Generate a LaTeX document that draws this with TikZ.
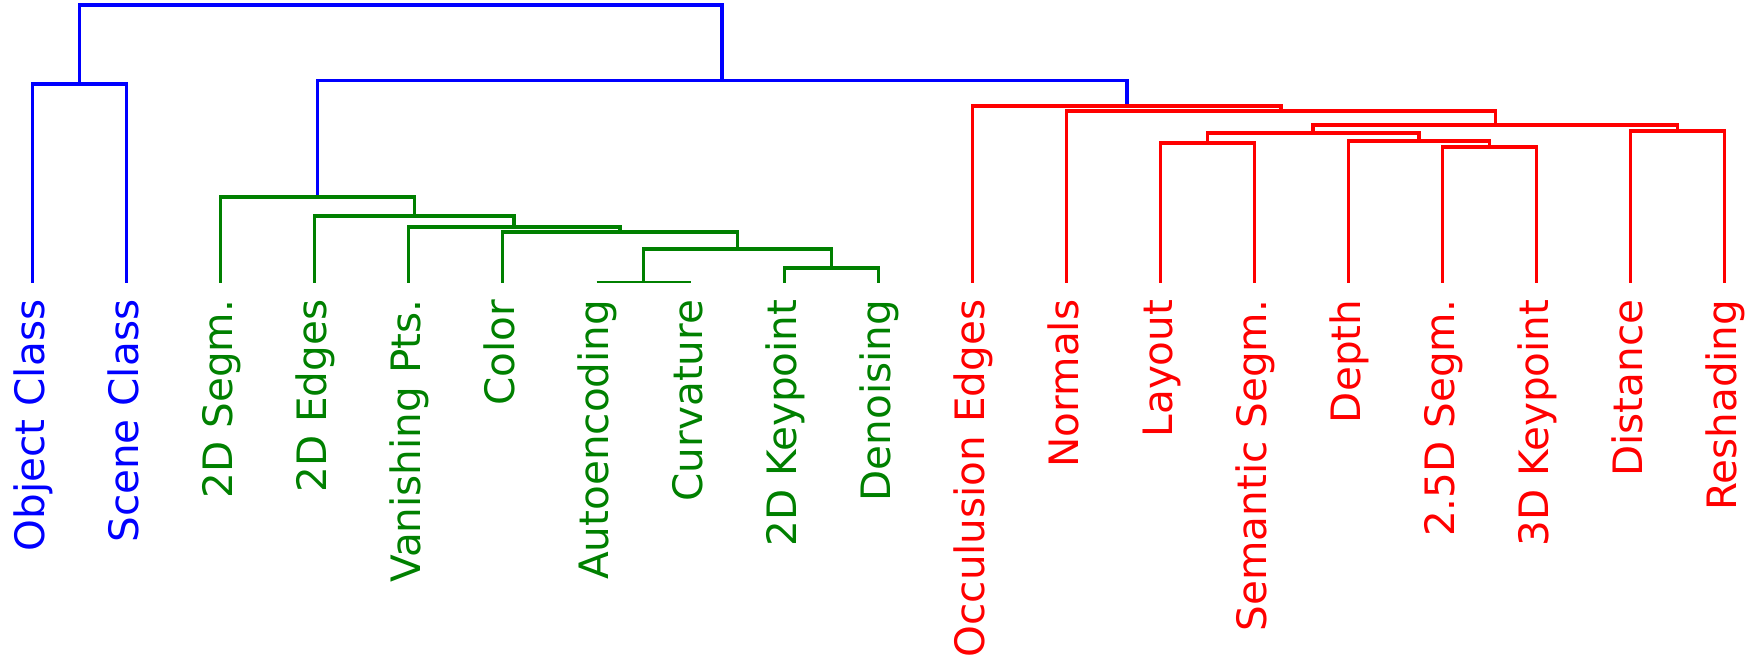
\documentclass[tikz,border=0pt]{standalone}
\usepackage{fontspec}
\setmainfont{DejaVu Sans}
\definecolor{mblue}{RGB}{0,0,255}
\definecolor{mgreen}{RGB}{0,128,0}
\definecolor{mred}{RGB}{255,0,0}
\tikzset{
  link/.style={line width=3.7pt, line join=miter, line cap=butt},
  lab/.style={rotate=90, anchor=base east, inner sep=0pt,
    font=\fontsize{40.5}{48}\selectfont}
}
\begin{document}
\begin{tikzpicture}[x=1pt,y=-1pt]
\useasboundingbox (0,0) rectangle (1746,659);
% leaves
\foreach \i in {0,...,18} {
  \coordinate (L\i) at ({32.5+94*\i},282.5);
}
% clusters
\coordinate (A)  at (79.5,84);
\coordinate (G1) at (643.5,282.5);
\coordinate (G2) at (831.5,267.7);
\coordinate (G3) at (737.5,249.3);
\coordinate (G4) at (620,231.7);
\coordinate (G5) at (514.25,226.7);
\coordinate (G6) at (414.4,216);
\coordinate (G7) at (317.4,197.3);
\coordinate (R1) at (1207.5,143.3);
\coordinate (R2) at (1489.5,146.7);
\coordinate (R3) at (1419,141);
\coordinate (R4) at (1313.25,132.7);
\coordinate (R5) at (1677.5,131);
\coordinate (R6) at (1495.4,125);
\coordinate (R7) at (1280.9,111);
\coordinate (R8) at (1126.7,106);
\coordinate (B)  at (722,80.4);
\coordinate (T)  at (400.75,4.7);
\begin{scope}
\clip (0,0) rectangle (1746,282.5);
% blue links
\draw[link, mblue] (L0) |- (A) -| (L1);
\draw[link, mblue] (G7) |- (B) -| (R8);
\draw[link, mblue] (A) |- (T) -| (B);
% green links
\draw[link, mgreen] (L6) |- (G1) -| (L7);
\draw[link, mgreen] (L8) |- (G2) -| (L9);
\draw[link, mgreen] (G1) |- (G3) -| (G2);
\draw[link, mgreen] (L5) |- (G4) -| (G3);
\draw[link, mgreen] (L4) |- (G5) -| (G4);
\draw[link, mgreen] (L3) |- (G6) -| (G5);
\draw[link, mgreen] (L2) |- (G7) -| (G6);
% red links
\draw[link, mred] (L12) |- (R1) -| (L13);
\draw[link, mred] (L15) |- (R2) -| (L16);
\draw[link, mred] (L14) |- (R3) -| (R2);
\draw[link, mred] (R1) |- (R4) -| (R3);
\draw[link, mred] (L17) |- (R5) -| (L18);
\draw[link, mred] (R4) |- (R6) -| (R5);
\draw[link, mred] (L11) |- (R7) -| (R6);
\draw[link, mred] (L10) |- (R8) -| (R7);
\end{scope}
% labels
\foreach \i/\t/\c in {0/Object Class/mblue, 1/Scene Class/mblue,
  2/2D Segm./mgreen, 3/2D Edges/mgreen, 4/Vanishing Pts./mgreen, 5/Color/mgreen,
  6/Autoencoding/mgreen, 7/Curvature/mgreen, 8/2D Keypoint/mgreen, 9/Denoising/mgreen,
  10/Occulusion Edges/mred, 11/Normals/mred, 12/Layout/mred, 13/Semantic Segm./mred,
  14/Depth/mred, 15/2.5D Segm./mred, 16/3D Keypoint/mred, 17/Distance/mred, 18/Reshading/mred} {
  \node[lab, text=\c] (t\i) at ({44.5+94*\i},299.5) {\t};
}
\end{tikzpicture}
\end{document}
